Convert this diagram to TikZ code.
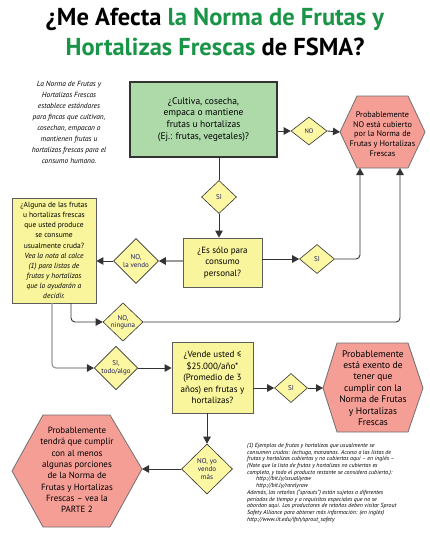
\documentclass[tikz,border=0pt]{standalone}
\usepackage{fontspec}
\setmainfont{PT Sans}
\usetikzlibrary{shapes.geometric,arrows.meta}
\definecolor{tgreen}{HTML}{1A9447}
\definecolor{boxgreen}{HTML}{AEDAAA}
\definecolor{boxyellow}{HTML}{F9F59C}
\definecolor{diayellow}{HTML}{FBF7A2}
\definecolor{hexred}{HTML}{F59E96}
\definecolor{linegray}{HTML}{333333}
\definecolor{lightline}{HTML}{999999}
\definecolor{navy}{HTML}{1C1C60}
\begin{document}
\begin{tikzpicture}[x=1pt,y=-1pt,
  conn/.style={draw=linegray,line width=0.9pt,rounded corners=4pt},
  arr/.style={conn,-{Triangle[length=7pt,width=7.5pt]}},
  gconn/.style={draw=lightline,line width=1.2pt,rounded corners=4pt},
  garr/.style={gconn,-{Triangle[length=7pt,width=7.5pt,color=linegray]}},
  qbox/.style={draw=linegray!80,line width=0.8pt,fill=boxyellow,align=center,inner sep=0pt},
  dia/.style={diamond,draw=linegray,line width=0.6pt,fill=diayellow,inner sep=0pt,text=navy,align=center,font=\fontsize{6.5}{7.5}\selectfont},
  hex/.style={draw=linegray!70,line width=0.8pt,fill=hexred},
  htext/.style={align=center,inner sep=0pt}
]
\useasboundingbox (0,0) rectangle (430,557);

% Title
\node[font=\fontsize{24.5}{28}\selectfont\bfseries] (t1) at (215,19) {¿Me Afecta \textcolor{tgreen}{la Norma de Frutas y}};
\node[font=\fontsize{24.5}{28}\selectfont\bfseries] (t2) at (215,47) {\textcolor{tgreen}{Hortalizas Frescas} de FSMA?};

% Intro
\node[font=\itshape\fontsize{7.4}{11}\selectfont,align=center] (intro) at (69,122)
 {La Norma de Frutas y\\Hortalizas Frescas\\establece estándares\\para fincas que cultivan,\\cosechan, empacan o\\mantienen frutas u\\hortalizas frescas para el\\consumo humano.};

% Green box
\node[draw=linegray,line width=1.1pt,fill=boxgreen,minimum width=147pt,minimum height=75pt,align=center,inner sep=0pt,font=\fontsize{9.5}{11.7}\selectfont] (g) at (203.5,119.5)
 {¿Cultiva, cosecha,\\empaca o mantiene\\frutas u hortalizas\\(Ej.: frutas, vegetales)?};

\node[dia,minimum width=36pt,minimum height=28pt] (no1) at (309,131) {NO};

% Hexagon 1
\coordinate (h1l) at (340,132);
\coordinate (h1r) at (425,132);
\coordinate (h1b1) at (360,168);
\coordinate (h1b2) at (400,168);
\draw[hex] (h1l) -- (357,96) -- (408,96) -- (h1r) -- (408,168) -- (357,168) -- cycle;
\node[htext,font=\fontsize{8.2}{9.6}\selectfont] (h1) at (382.5,134)
 {Probablemente\\NO está cubierto\\por la Norma de\\Frutas y Hortalizas\\Frescas};

\node[dia,minimum width=35pt,minimum height=33pt,font=\fontsize{7}{8}\selectfont] (si1) at (219,197) {SI};

\node[qbox,minimum width=79pt,minimum height=49pt,font=\fontsize{9}{11.7}\selectfont] (b2) at (222.5,262.5)
 {¿Es sólo para\\consumo\\personal?};

\node[dia,minimum width=45pt,minimum height=45pt,font=\fontsize{7}{8.5}\selectfont] (lv) at (136,261) {NO,\\la vendo};

\node[qbox,minimum width=84pt,minimum height=105pt,font=\fontsize{7.5}{10.1}\selectfont] (b3) at (54,250.5)
 {¿Alguna de las frutas\\u hortalizas frescas\\que usted produce\\se consume\\usualmente cruda?\\\itshape Vea la nota al calce\\\itshape (1) para listas de\\\itshape frutas y hortalizas\\\itshape que lo ayudarán a\\\itshape decidir.};

\node[dia,minimum width=35pt,minimum height=29pt,font=\fontsize{7}{8}\selectfont] (si2) at (317,259) {SI};

\node[dia,minimum width=40pt,minimum height=32pt,font=\fontsize{7}{7.5}\selectfont] (ng) at (123,322) {NO,\\ninguna};

\node[dia,minimum width=42pt,minimum height=40pt,font=\fontsize{7}{8}\selectfont] (ta) at (116,368) {SI,\\todo/algo};

\node[qbox,minimum width=81pt,minimum height=71pt,font=\fontsize{9}{11.6}\selectfont] (b4) at (212.5,377.5)
 {¿Vende usted ≤\\\$25.000/año*\\(Promedio de 3\\años) en frutas y\\hortalizas?};

\node[dia,minimum width=33pt,minimum height=29pt,font=\fontsize{7}{8}\selectfont] (si3) at (291,388) {SI};

% Hexagon 2
\coordinate (h2l) at (323,388);
\draw[hex] (h2l) -- (337,343) -- (408,343) -- (423,388) -- (408,432) -- (337,432) -- cycle;
\node[htext,font=\fontsize{9.5}{11.4}\selectfont] (h2) at (373,388)
 {Probablemente\\está exento de\\tener que\\cumplir con la\\Norma de Frutas\\y Hortalizas\\Frescas};

\node[dia,minimum width=51pt,minimum height=50pt,font=\fontsize{7}{8}\selectfont] (yv) at (207,469) {NO, yo\\vendo\\más};

% Hexagon 3
\coordinate (h3r) at (142,469);
\draw[hex] (12,471) -- (43,415) -- (110,415) -- (h3r) -- (110,527) -- (43,527) -- cycle;
\node[htext,font=\fontsize{9}{11.3}\selectfont] (h3) at (77,470)
 {Probablemente\\tendrá que cumplir\\con al menos\\algunas porciones\\de la Norma de\\Frutas y Hortalizas\\Frescas – vea la\\PARTE 2};

% Footnote
\node[anchor=north west,inner sep=0pt,align=left,font=\itshape\fontsize{5.9}{6.7}\selectfont] (fn) at (247,443)
 {(1) Ejemplos de frutas y hortalizas que usualmente se\\
consumen crudas: lechuga, manzanas. Acceso a las listas de\\
frutas y hortalizas cubiertas y no cubiertas aquí – en inglés –\\
(Note que la lista de frutas y hortalizas no cubiertas es\\
completa, y todo el producto restante se considera cubierto.):\\
\hspace*{9pt}http://bit.ly/usuallyraw\\
\hspace*{9pt}http://bit.ly/rarelyraw\\
Además, los retoños (“sprouts”) están sujetos a diferentes\\
períodos de tiempo y a requisitos especiales que no se\\
abordan aquí. Los productores de retoños deben visitar Sprout\\
Safety Alliance para obtener más información: (en inglés)\\
http://www.iit.edu/ifsh/sprout\_safety};

% Connectors
\draw[arr] (g.east |- no1) -- (no1.west);
\draw[arr] (no1.east) -- (h1l);
\draw[conn] (si1.north |- g.south) -- (si1.north);
\draw[arr] (si1.south) -- (si1.south |- b2.north);
\draw[garr] (b2.west |- lv) -- (lv.east);
\draw[arr] (lv.west) -- (b3.east |- lv);
\draw[arr] (b2.east |- si2) -- (si2.west);
\draw[arr] (si2.east) -- (h1b1 |- si2) -- (h1b1);
\draw[arr] (71,303) -- (71,322) -- (ng.west);
\draw[arr] (ng.east) -- (h1b2 |- ng) -- (h1b2);
\draw[garr] (52,303) -- (52,368) -- (ta.west);
\draw[arr] (ta.east) -- (b4.west |- ta);
\draw[arr] (b4.east |- si3) -- (si3.west);
\draw[arr] (si3.east) -- (h2l);
\draw[arr] (yv.north |- b4.south) -- (yv.north);
\draw[arr] (yv.west) -- (h3r);
\end{tikzpicture}
\end{document}
